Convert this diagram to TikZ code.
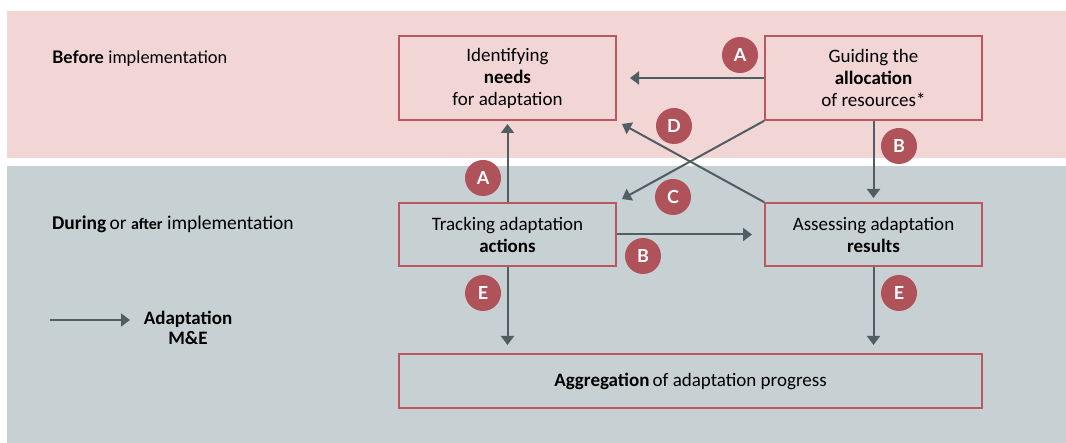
\documentclass[tikz,border=0pt]{standalone}
\usepackage{fontspec}
\setmainfont{Carlito}
\newfontfamily\lato{Lato}
\usetikzlibrary{arrows.meta}
\definecolor{pinkbg}{HTML}{F2D5D5}
\definecolor{graybg}{HTML}{C7D0D3}
\definecolor{boxred}{HTML}{BA5761}
\definecolor{circred}{HTML}{B0525A}
\definecolor{arrowgray}{HTML}{4F5E63}
\tikzset{
  box/.style={draw=boxred, line width=1.6pt, minimum width=217pt, minimum height=84pt, align=center, font=\fontsize{19}{22}\selectfont, inner sep=0pt},
  badge/.style={circle, fill=circred, text=white, minimum size=36pt, inner sep=0pt, font=\lato\bfseries\fontsize{18}{18}\selectfont},
  flow/.style={draw=arrowgray, line width=2pt, -{Triangle[length=9pt,width=13pt]}},
  side/.style={anchor=west, inner sep=0pt}
}
\begin{document}
\begin{tikzpicture}[x=1pt,y=-1pt]
\useasboundingbox (0,0) rectangle (1066,443);
\fill[white] (0,0) rectangle (1066,443);
\fill[pinkbg] (7,11) rectangle (1066,158);
\fill[graybg] (7,166) rectangle (1066,443);

\node[side, font=\lato\fontsize{17.3}{18}\selectfont] (before) at (52,59) {\textbf{Before} implementation};
\node[side, font=\fontsize{19.5}{22}\selectfont] (during) at (52,224) {\textbf{During}\,or {\bfseries\fontsize{16}{18}\selectfont after} implementation};

\node[box] (needs) at (507.5,78) {Identifying\\\textbf{needs}\\for adaptation};
\node[box] (alloc) at (873.5,78) {Guiding the\\\textbf{allocation}\\of resources*};
\node[box, minimum height=63pt] (track) at (507.5,234.5) {Tracking adaptation\\\textbf{actions}};
\node[box, minimum height=63pt] (assess) at (873.5,234.5) {Assessing adaptation\\\textbf{results}};
\node[box, minimum width=583pt, minimum height=54pt] (aggr) at (690.5,381) {\textbf{Aggregation}\,of adaptation progress};

\coordinate (aEnd) at (630,78);
\coordinate (dEnd) at (622,124);
\coordinate (cEnd) at (622,199);
\coordinate (bEnd) at (873.5,198);
\coordinate (a2End) at (507.5,124);
\coordinate (b2End) at (752,234.5);
\coordinate (e1End) at (507.5,345);
\coordinate (e2End) at (873.5,345);

\draw[flow] (alloc.west) -- (aEnd);
\draw[flow] (assess.north west) -- (dEnd);
\draw[flow] (alloc.south west) -- (cEnd);
\draw[flow] (alloc.south) -- (bEnd);
\draw[flow] (track.north) -- (a2End);
\draw[flow] (track.east) -- (b2End);
\draw[flow] (track.south) -- (e1End);
\draw[flow] (assess.south) -- (e2End);

\node[badge] (bA1) at (740,55) {A};
\node[badge] (bD) at (674,126) {D};
\node[badge] (bC) at (673,197) {C};
\node[badge] (bB1) at (899,146) {B};
\node[badge] (bA2) at (483,178) {A};
\node[badge] (bB2) at (643,256) {B};
\node[badge] (bE1) at (483,293) {E};
\node[badge] (bE2) at (899,293) {E};

\coordinate (lgStart) at (50,320);
\node[align=center, font=\bfseries\fontsize{19}{20}\selectfont, inner sep=0pt] (legend) at (188,328) {Adaptation\\M\&E};
\draw[flow] (lgStart) -- (130,320);
\end{tikzpicture}
\end{document}
